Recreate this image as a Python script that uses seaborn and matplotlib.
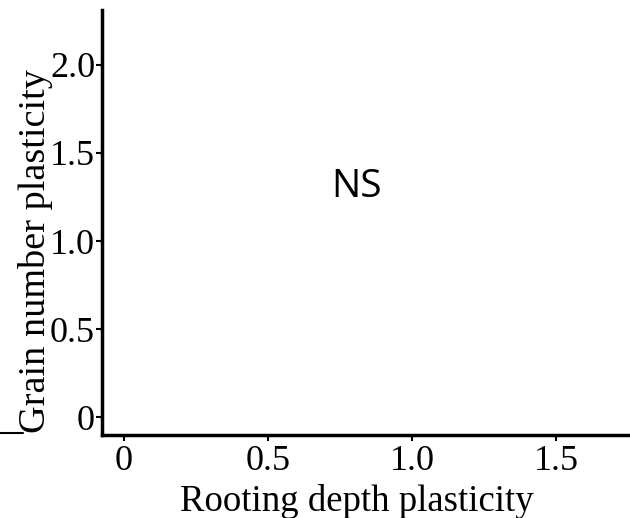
import matplotlib
matplotlib.use("Agg")
import matplotlib.pyplot as plt
import seaborn as sns
import pandas as pd
from matplotlib.lines import Line2D

x_ticks = [0, 0.5, 1.0, 1.5]
x_tick_labels = ["0", "0.5", "1.0", "1.5"]
y_ticks = [0, 0.5, 1.0, 1.5, 2.0]
y_tick_labels = ["0", "0.5", "1.0", "1.5", "2.0"]
x_label = "Rooting depth plasticity"
y_label = "Grain number plasticity"
annotation = "NS"
rooting_depth = []
grain_number = []

sns.set_theme(style="ticks")
plt.rcParams['font.family'] = ['Liberation Serif', 'DejaVu Serif']

fig = plt.figure(figsize=(6.3, 5.18), dpi=100)
ax = fig.add_axes([0.162, 0.160, 0.838, 0.821])
df = pd.DataFrame({"x": rooting_depth, "y": grain_number}, dtype=float)
sns.scatterplot(data=df, x="x", y="y", ax=ax)

ax.set_xlim(-0.076, 1.757)
ax.set_ylim(-0.10, 2.31)
ax.set_xticks(x_ticks)
ax.set_xticklabels(x_tick_labels)
ax.set_yticks(y_ticks)
ax.set_yticklabels(y_tick_labels)
ax.tick_params(axis='both', labelsize=26, length=4, width=1.5, color='black', labelcolor='black')
ax.tick_params(axis='y', pad=1)
ax.tick_params(axis='x', pad=3)
ax.set_xlabel(x_label, fontsize=26.5, color='black')
ax.set_ylabel(y_label, fontsize=27.5, color='black')
ax.xaxis.label.set_va('center')
ax.yaxis.label.set_va('center')
ax.xaxis.set_label_coords(0.483, -0.155)
ax.yaxis.set_label_coords(-0.126, 0.433)
for s in ['top', 'right']:
    ax.spines[s].set_visible(False)
for s in ['left', 'bottom']:
    ax.spines[s].set_linewidth(2.5)
    ax.spines[s].set_color('black')

ax.text(0.809, 1.306, annotation, fontsize=28, family=['Open Sans', 'DejaVu Sans'], ha='center', va='center', color='black')

fig.add_artist(Line2D([0.0, 0.036], [0.164, 0.164], color='black', lw=1.5, transform=fig.transFigure))

fig.savefig("out.png", dpi=100)
